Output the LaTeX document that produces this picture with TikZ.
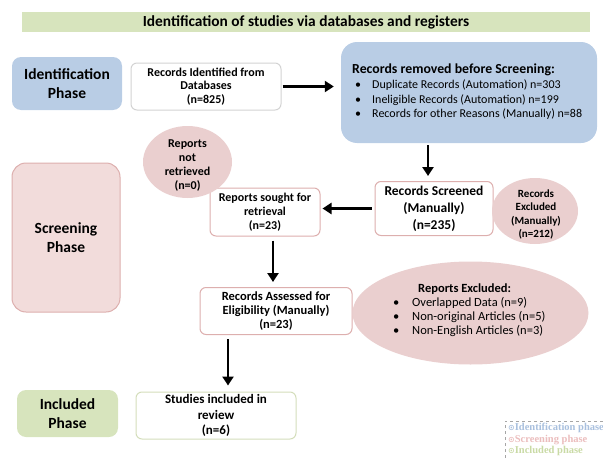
\documentclass[tikz,border=0pt]{standalone}
\usepackage{fontspec}
\setmainfont{Carlito}
\newfontfamily\legfont{Liberation Serif}
\newfontfamily\symfont{DejaVu Sans}
\usetikzlibrary{shapes.geometric,arrows.meta}
\definecolor{bannergreen}{HTML}{D7E4BD}
\definecolor{phaseblue}{HTML}{B9CDE5}
\definecolor{phasepink}{HTML}{F2DCDB}
\definecolor{pinkborder}{HTML}{DDAFAE}
\definecolor{ellpink}{HTML}{EACFCF}
\definecolor{greyborder}{HTML}{D3D3D3}
\definecolor{greenborder}{HTML}{D4DEBB}
\definecolor{legblue}{HTML}{A9C0DE}
\definecolor{legpink}{HTML}{EBBDBD}
\definecolor{leggreen}{HTML}{C9DAA5}
\tikzset{
  phasebox/.style={rounded corners=9pt, minimum width=#1, align=center, font=\fontsize{15.5}{19}\selectfont\bfseries, inner sep=0pt},
  flowbox/.style={draw, line width=1pt, rounded corners=6pt, fill=white, align=center, inner sep=0pt},
  ellnode/.style={ellipse, fill=ellpink, align=center, inner sep=0pt},
  arr/.style={line width=2.4pt, -{Triangle[length=9pt,width=11pt]}}
}
\begin{document}
\begin{tikzpicture}[x=1pt,y=-1pt]
\useasboundingbox (0,0) rectangle (603,458);
% banner
\node[fill=bannergreen, minimum width=568pt, minimum height=20pt, inner sep=0pt,
      font=\fontsize{15.4}{17}\selectfont\bfseries] (banner) at (306,22)
      {Identification of studies via databases and registers};
% phase boxes
\node[phasebox=110pt, fill=phaseblue, minimum height=53pt] (idphase) at (67,83.5) {Identification\\Phase};
\node[phasebox=108pt, fill=phasepink, draw=pinkborder, line width=1pt, minimum height=149pt, rounded corners=14pt] (scphase) at (66,237.5) {Screening\\Phase};
\node[phasebox=101pt, fill=bannergreen, minimum height=47pt] (inphase) at (67.5,413.5) {Included\\Phase};
% identification
\node[flowbox, draw=greyborder, minimum width=150pt, minimum height=47pt,
      font=\fontsize{12}{13.8}\selectfont\bfseries] (ident) at (206,86.5)
      {Records Identified from\\Databases\\(n=825)};
\node[fill=phaseblue, rounded corners=16pt, minimum width=256pt, minimum height=101pt, inner sep=0pt] (removed) at (469,92.5) {};
\node[anchor=north west, align=left, inner sep=0pt, font=\fontsize{12}{14.6}\selectfont] (removedtxt) at (352,64)
  {{\fontsize{13.8}{14.6}\selectfont\bfseries Records removed before Screening:}\\
   \makebox[20pt][l]{\hspace{3pt}•}Duplicate Records (Automation) n=303\\
   \makebox[20pt][l]{\hspace{3pt}•}Ineligible Records (Automation) n=199\\
   \makebox[20pt][l]{\hspace{3pt}•}Records for other Reasons (Manually) n=88};
% screening
\node[flowbox, draw=pinkborder, minimum width=118pt, minimum height=54pt,
      font=\fontsize{13.5}{17}\selectfont\bfseries] (screened) at (434,208.5)
      {Records Screened\\(Manually)\\(n=235)};
\node[ellnode, minimum width=86pt, minimum height=66pt] (excl) at (535,211) {};
\node[align=center, inner sep=0pt, font=\fontsize{11}{13.5}\selectfont\bfseries] (excltxt) at (536,214.5)
      {Records\\Excluded\\(Manually)\\(n=212)};
\node[flowbox, draw=pinkborder, minimum width=110pt, minimum height=48pt,
      font=\fontsize{12}{14}\selectfont\bfseries] (sought) at (265,212)
      {Reports sought for\\retrieval\\(n=23)};
\node[ellnode, minimum width=89pt, minimum height=72pt] (notret) at (187.5,162) {};
\node[align=center, inner sep=0pt, font=\fontsize{12}{14}\selectfont\bfseries] (notrettxt) at (187.5,166)
      {Reports\\not\\retrieved\\(n=0)};
\node[flowbox, draw=pinkborder, minimum width=152pt, minimum height=47pt,
      font=\fontsize{12.5}{14}\selectfont\bfseries] (assessed) at (276,311)
      {Records Assessed for\\Eligibility (Manually)\\(n=23)};
\node[ellnode, minimum width=236pt, minimum height=103pt] (repexcl) at (470.5,313) {};
\node[anchor=north west, align=left, inner sep=0pt, font=\fontsize{12.5}{14}\selectfont] (repexcltxt) at (391,283.5)
  {\hspace{27pt}{\bfseries Reports Excluded:}\\
   \makebox[21pt][l]{\hspace{2pt}•}Overlapped Data (n=9)\\
   \makebox[21pt][l]{\hspace{2pt}•}Non-original Articles (n=5)\\
   \makebox[21pt][l]{\hspace{2pt}•}Non-English Articles (n=3)};
% included
\node[flowbox, draw=greenborder, minimum width=160pt, minimum height=47pt,
      font=\fontsize{13}{15.5}\selectfont\bfseries] (studies) at (216,415.5)
      {Studies included in\\review\\(n=6)};
% arrows
\draw[arr] ([xshift=1pt]ident.east) -- ([xshift=-7pt]ident.east -| removed.west);
\draw[arr] ([xshift=-41pt,yshift=-2pt]removed.south) -- ([xshift=-6pt,yshift=5pt]screened.north);
\draw[arr] ([xshift=-3pt]screened.west) -- ([xshift=2pt]screened.west -| sought.east);
\draw[arr] ([xshift=8pt,yshift=-4pt]sought.south) -- ([xshift=-3pt,yshift=5pt]assessed.north);
\draw[arr] ([xshift=-48pt,yshift=-4pt]assessed.south) -- ([xshift=12pt,yshift=6pt]studies.north);
% legend
\begin{scope}
\clip (0,0) rectangle (603,458);
\draw[gray!70, dashed, line width=0.7pt] (505,458) -- (505,421) -- (620,421);
\node[anchor=north west, align=left, inner sep=0pt, font=\legfont\fontsize{10.5}{11.5}\selectfont\bfseries] (legend) at (508,423)
  {\textcolor{legblue}{{\symfont\fontsize{8}{9}\selectfont ⊙}Identification phase}\\
   \textcolor{legpink}{{\symfont\fontsize{8}{9}\selectfont ⊙}Screening phase}\\
   \textcolor{leggreen}{{\symfont\fontsize{8}{9}\selectfont ⊙}Included phase}};
\end{scope}
\end{tikzpicture}
\end{document}
